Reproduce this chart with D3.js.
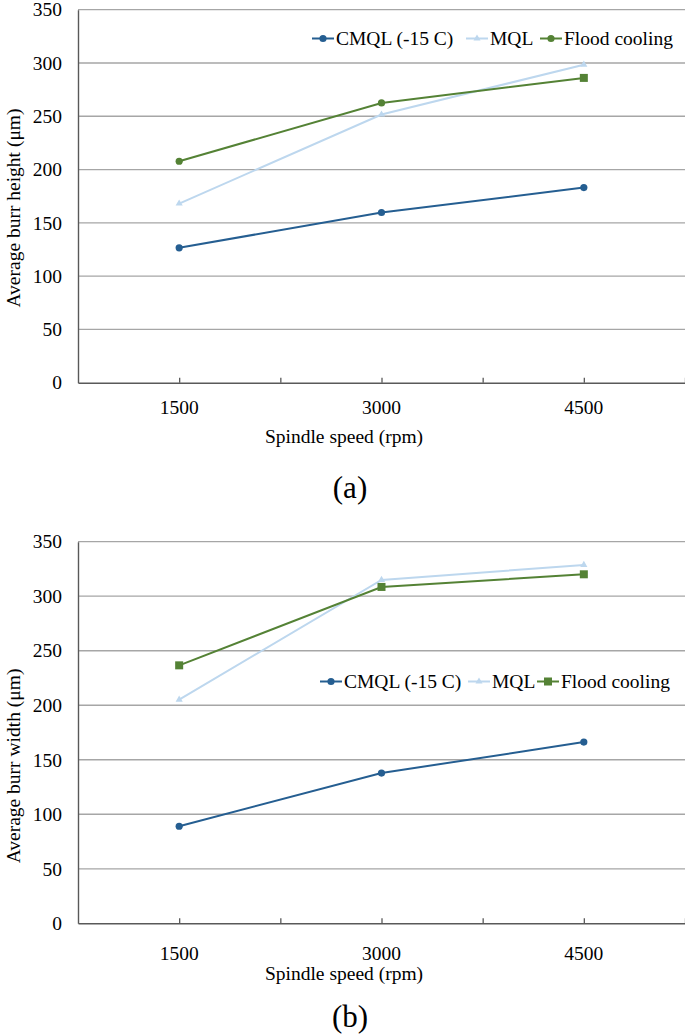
<!DOCTYPE html>
<html><head><meta charset="utf-8">
<script src="https://cdn.jsdelivr.net/npm/d3@7"></script>
<style>body{margin:0;background:#fff}svg{display:block}text{font-family:"Liberation Serif","Times New Roman",serif;fill:#000}</style>
</head><body>
<script>
const speeds = [1500, 3000, 4500];
const seriesNames = ["CMQL (-15 C)", "MQL", "Flood cooling"];
const heightCMQL = [126.6, 159.7, 183.1];
const heightMQL = [168.1, 251.6, 298.4];
const heightFlood = [207.8, 262.5, 286.0];
const widthCMQL = [89.0, 137.8, 166.2];
const widthMQL = [205.2, 314.9, 328.7];
const widthFlood = [236.6, 308.5, 320.1];
const yTicks = [0, 50, 100, 150, 200, 250, 300, 350];
const xTickLabels = ["1500", "3000", "4500"];
const xMinorTicks = [1500, 2250, 3000, 3750, 4500, 5250];
const panelLabels = ["(a)", "(b)"];
const yTitles = ["Average burr height (\u03bcm)", "Average burr width (\u03bcm)"];
const xTitle = "Spindle speed (rpm)";
const floodMarkersA = ["circle", "circle", "square"];
const floodMarkersB = ["square", "square", "square"];

const colors = ["#255E91", "#BDD7EE", "#548235"];

const W = 685, H = 1035;
const svg = d3.select("body").append("svg").attr("width", W).attr("height", H);

const panels = [
  {top: 9.7, bottom: 382.7, data: [heightCMQL, heightMQL, heightFlood], floodMarkers: floodMarkersA, legendY: 38.5, legendMarkers: ["circle","triangle","circle"], legendX: [312, 466, 540],
   yTitleY: 208, tickY: 407, titleY: 436, labelY: 487},
  {top: 541.7, bottom: 923.3, data: [widthCMQL, widthMQL, widthFlood], floodMarkers: floodMarkersB, legendY: 681.5, legendMarkers: ["circle","triangle","square"], legendX: [320, 468, 537],
   yTitleY: 766, tickY: 953, titleY: 973, labelY: 1016}
];

const x = d3.scaleLinear().domain([750, 5250]).range([78, 685]);

function drawMarker(g, type, cx, cy, color) {
  if (type === "circle") {
    g.append("circle").attr("cx", cx).attr("cy", cy).attr("r", 3.6).attr("fill", color);
  } else if (type === "square") {
    g.append("rect").attr("x", cx - 4).attr("y", cy - 4).attr("width", 8).attr("height", 8).attr("fill", color);
  } else {
    g.append("path").attr("d", d3.symbol(d3.symbolTriangle, 22)()).attr("transform", `translate(${cx},${cy})`).attr("fill", color);
  }
}

panels.forEach((p, pi) => {
  const y = d3.scaleLinear().domain([0, 350]).range([p.bottom, p.top]);
  const g = svg.append("g");
  g.selectAll(".grid").data(yTicks.filter(d => d > 0)).enter().append("line")
    .attr("x1", x(750)).attr("x2", x(5250)).attr("y1", d => y(d)).attr("y2", d => y(d))
    .attr("stroke", "#A6A6A6").attr("stroke-width", 1.3);
  const yAxis = d3.axisLeft(y).tickValues(yTicks).tickSize(0).tickPadding(16);
  const ya = g.append("g").attr("transform", `translate(${x(750)},0)`).call(yAxis);
  ya.select(".domain").attr("stroke", "#595959").attr("stroke-width", 1.4);
  ya.selectAll("text").style("font-size", "19.5px").style("font-family", "Liberation Serif").attr("fill", "#000");
  const xAxis = d3.axisBottom(x).tickValues(xMinorTicks).tickSize(-5).tickFormat("").tickSizeOuter(0);
  const xa = g.append("g").attr("transform", `translate(0,${y(0)})`).call(xAxis);
  xa.select(".domain").attr("stroke", "#595959").attr("stroke-width", 1.4);
  xa.selectAll(".tick line").attr("stroke", "#595959").attr("stroke-width", 1.3);
  g.selectAll(".xl").data(speeds).enter().append("text")
    .attr("x", d => x(d)).attr("y", p.tickY).attr("text-anchor", "middle").attr("dominant-baseline", "central")
    .style("font-size", "19.5px").text((d, i) => xTickLabels[i]);
  g.append("text").attr("x", 344).attr("y", p.titleY).attr("text-anchor", "middle").attr("dominant-baseline", "central")
    .style("font-size", "19.5px").text(xTitle);
  g.append("text").attr("transform", `translate(13,${p.yTitleY}) rotate(-90)`).attr("text-anchor", "middle").attr("dominant-baseline", "central")
    .style("font-size", "19.5px").text(yTitles[pi]);
  g.append("text").attr("x", 350).attr("y", p.labelY).attr("text-anchor", "middle").attr("dominant-baseline", "central")
    .style("font-size", "31px").text(panelLabels[pi]);
  const line = d3.line().x((d, i) => x(speeds[i])).y(d => y(d));
  p.data.forEach((vals, si) => {
    g.append("path").datum(vals).attr("d", line).attr("fill", "none").attr("stroke", colors[si]).attr("stroke-width", 2);
  });
  p.data.forEach((vals, si) => {
    vals.forEach((v, i) => {
      const type = si === 0 ? "circle" : si === 1 ? "triangle" : p.floodMarkers[i];
      drawMarker(g, type, x(speeds[i]), y(v), colors[si]);
    });
  });
  seriesNames.forEach((name, si) => {
    const lx = p.legendX[si];
    const lg = g.append("g");
    lg.append("line").attr("x1", lx).attr("x2", lx + 22).attr("y1", p.legendY).attr("y2", p.legendY)
      .attr("stroke", colors[si]).attr("stroke-width", 2);
    drawMarker(lg, p.legendMarkers[si], lx + 11, p.legendY, colors[si]);
    lg.append("text").attr("x", lx + 24).attr("y", p.legendY).attr("dominant-baseline", "central")
      .style("font-size", "19.5px").text(name);
  });
});
</script>
</body></html>
